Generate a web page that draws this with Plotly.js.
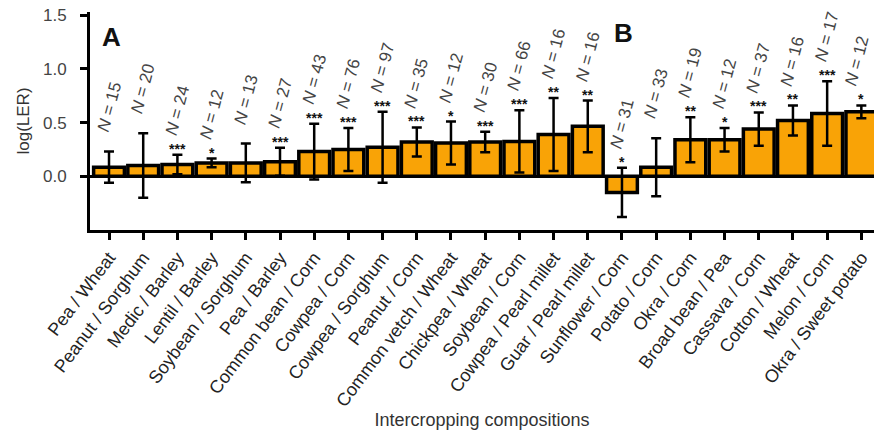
<!DOCTYPE html>
<html>
<head>
<meta charset="utf-8">
<script src="https://cdn.plot.ly/plotly-3.0.1.min.js"></script>
<style>html,body{margin:0;padding:0;background:#fff;}#chart{width:874px;height:430px;}</style>
</head>
<body>
<div id="chart"></div>
<script>
// Intercropping compositions (panel A: first 15, panel B: last 8)
var categories = [
  "Pea / Wheat", "Peanut / Sorghum", "Medic / Barley", "Lentil / Barley",
  "Soybean / Sorghum", "Pea / Barley", "Common bean / Corn", "Cowpea / Corn",
  "Cowpea / Sorghum", "Peanut / Corn", "Common vetch / Wheat", "Chickpea / Wheat",
  "Soybean / Corn", "Cowpea / Pearl millet", "Guar / Pearl millet",
  "Sunflower / Corn", "Potato / Corn", "Okra / Corn", "Broad bean / Pea",
  "Cassava / Corn", "Cotton / Wheat", "Melon / Corn", "Okra / Sweet potato"
];
var logLER = [0.085, 0.10, 0.11, 0.125, 0.125, 0.135, 0.23, 0.25, 0.27, 0.32, 0.31, 0.32,
              0.325, 0.39, 0.465, -0.15, 0.085, 0.34, 0.34, 0.44, 0.52, 0.585, 0.60];
var errors = [0.145, 0.30, 0.09, 0.04, 0.18, 0.13, 0.26, 0.20, 0.33, 0.135, 0.20, 0.095,
              0.29, 0.34, 0.24, 0.23, 0.27, 0.21, 0.11, 0.155, 0.14, 0.30, 0.06];
var sampleN = [15, 20, 24, 12, 13, 27, 43, 76, 97, 35, 12, 30, 66, 16, 16, 31, 33, 19, 12, 37, 16, 17, 12];
var significance = ["", "", "***", "*", "", "***", "***", "***", "***", "***", "*", "***",
                    "***", "**", "**", "*", "", "**", "*", "***", "**", "***", "*"];
var panelLabels = [{text: "A", at: 0, y: 1.30}, {text: "B", at: 15, y: 1.33}];

(function () {
var FONT = "Liberation Sans, Arial, Helvetica, sans-serif";

var trace = {
  type: "bar",
  x: categories,
  y: logLER,
  width: 0.9,
  marker: {color: "#F9A306", line: {color: "#000", width: 3.5}},
  error_y: {type: "data", array: errors, visible: true, color: "#000", thickness: 2.5, width: 5},
  hoverinfo: "x+y"
};

var annotations = [];
var last = categories.length - 1;
for (var i = 0; i < categories.length; i++) {
  var errTop = logLER[i] + errors[i];
  annotations.push({
    x: categories[i], y: errTop, xref: "x", yref: "y",
    text: "<i>N</i> = " + sampleN[i],
    showarrow: false, textangle: -75,
    xanchor: "center", yanchor: "bottom", yshift: 15,
    xshift: (i === last ? -4 : 0),
    font: {family: FONT, size: 17, color: "#444"}
  });
  if (significance[i]) {
    annotations.push({
      x: categories[i], y: errTop, xref: "x", yref: "y",
      text: "<b>" + significance[i] + "</b>", showarrow: false,
      xanchor: "center", yanchor: "middle", yshift: 6,
      font: {family: FONT, size: 14, color: "#111"}
    });
  }
}
panelLabels.forEach(function (p) {
  annotations.push({
    x: categories[p.at], y: p.y, xref: "x", yref: "y", xshift: 2,
    text: "<b>" + p.text + "</b>", showarrow: false,
    xanchor: "center", yanchor: "middle",
    font: {family: FONT, size: 26, color: "#111"}
  });
});

var layout = {
  width: 874, height: 430,
  margin: {l: 90, r: 0, t: 12, b: 200, pad: 0},
  paper_bgcolor: "#fff", plot_bgcolor: "#fff",
  showlegend: false,
  font: {family: FONT, color: "#333"},
  xaxis: {
    type: "category",
    range: [-0.556, 22.37],
    showline: true, linecolor: "#000", linewidth: 3,
    ticks: "outside", ticklen: 7, tickwidth: 3, tickcolor: "#000",
    tickangle: -53,
    tickfont: {family: FONT, size: 18, color: "#222"},
    showgrid: false, zeroline: false,
    title: {text: "Intercropping compositions", font: {family: FONT, size: 18, color: "#333"}, standoff: 4}
  },
  yaxis: {
    range: [-0.5, 1.53],
    tickvals: [0, 0.5, 1.0, 1.5],
    ticktext: ["0.0", "0.5", "1.0", "1.5"],
    showline: true, linecolor: "#000", linewidth: 3,
    ticks: "outside", ticklen: 7, tickwidth: 3, tickcolor: "#000",
    ticklabelstandoff: 10,
    tickfont: {family: FONT, size: 17, color: "#444"},
    showgrid: false,
    zeroline: true, zerolinecolor: "#000", zerolinewidth: 3,
    title: {text: "log(LER)", font: {family: FONT, size: 17, color: "#333"}, standoff: 10}
  },
  annotations: annotations
};

Plotly.newPlot("chart", [trace], layout, {displayModeBar: false, staticPlot: true});
})();
</script>
</body>
</html>
